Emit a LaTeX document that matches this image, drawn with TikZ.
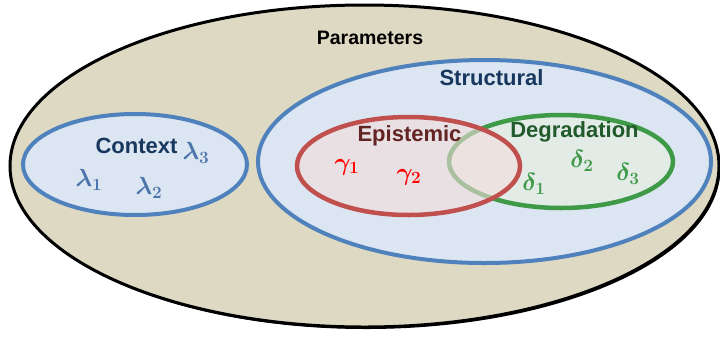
\documentclass[tikz,border=0pt]{standalone}
\usepackage[no-math]{fontspec}
\usepackage{bm}
\setmainfont{Liberation Sans}
\usetikzlibrary{shapes.geometric}
\definecolor{beige}{HTML}{DDD9C3}
\definecolor{sblue}{HTML}{4F81BD}
\definecolor{lblue}{HTML}{DCE6F2}
\definecolor{sred}{HTML}{C0504D}
\definecolor{lred}{HTML}{F2DCDB}
\definecolor{sgreen}{HTML}{3E9A47}
\definecolor{lgreen}{HTML}{EBF1DE}
\definecolor{navy}{HTML}{17375E}
\definecolor{dred}{HTML}{632523}
\definecolor{dgreen}{HTML}{215A2B}
\definecolor{lamc}{HTML}{4A74AA}
\newcommand{\gsym}[2]{$\bm{#1}_{\bm{#2}}$}
\tikzset{
  oval/.style={ellipse, inner sep=0pt},
  lbl/.style={font=\fontsize{22bp}{26bp}\selectfont\bfseries, anchor=base, inner sep=0pt},
  sym/.style={font=\fontsize{23bp}{27bp}\selectfont, inner sep=0pt},
}
\begin{document}
\begin{tikzpicture}[x=1bp,y=-1bp]
\useasboundingbox (0,0) rectangle (720,336);
% outer
\node[oval, fill=black, minimum width=709bp, minimum height=322bp] (shadow) at (366,168) {};
\node[oval, draw=black, line width=3bp, fill=beige, minimum width=709bp, minimum height=322bp] (outer) at (364.5,166) {};
% context
\node[oval, draw=sblue, line width=4bp, fill=lblue, minimum width=224bp, minimum height=101bp] (ctx) at (135,164.5) {};
% structural
\node[oval, draw=sblue, line width=4bp, fill=lblue, minimum width=453bp, minimum height=203bp] (str) at (484.5,161.5) {};
% degradation
\node[oval, draw=sgreen, line width=4.5bp, fill=lgreen, fill opacity=0.5, draw opacity=1, minimum width=224bp, minimum height=93bp] (deg) at (561,161.5) {};
% epistemic
\node[oval, draw=sred, line width=4.5bp, fill=lred, fill opacity=0.6, draw opacity=1, minimum width=223bp, minimum height=98bp] (epi) at (408.5,166) {};
% labels
\node[lbl, font=\fontsize{19.5bp}{23bp}\selectfont\bfseries, text=black] (tpar) at (370,44) {Parameters};
\node[lbl, text=navy] (tstr) at (491.5,85) {Structural};
\node[lbl, text=navy] (tctx) at (136.5,153) {Context};
\node[lbl, text=dred] (tepi) at (409.5,141.5) {Epistemic};
\node[lbl, text=dgreen] (tdeg) at (574.5,137.5) {Degradation};
% symbols
\node[sym, text=lamc] (l3) at (196,153) {\gsym{\lambda}{3}};
\node[sym, text=lamc] (l1) at (89,180) {\gsym{\lambda}{1}};
\node[sym, text=lamc] (l2) at (149,188) {\gsym{\lambda}{2}};
\node[sym, text=red] (g1) at (347,167) {\gsym{\gamma}{1}};
\node[sym, text=red] (g2) at (409,177) {\gsym{\gamma}{2}};
\node[sym, text=sgreen] (d1) at (534,184) {\gsym{\delta}{1}};
\node[sym, text=sgreen] (d2) at (582,161) {\gsym{\delta}{2}};
\node[sym, text=sgreen] (d3) at (628,174) {\gsym{\delta}{3}};
\end{tikzpicture}
\end{document}
